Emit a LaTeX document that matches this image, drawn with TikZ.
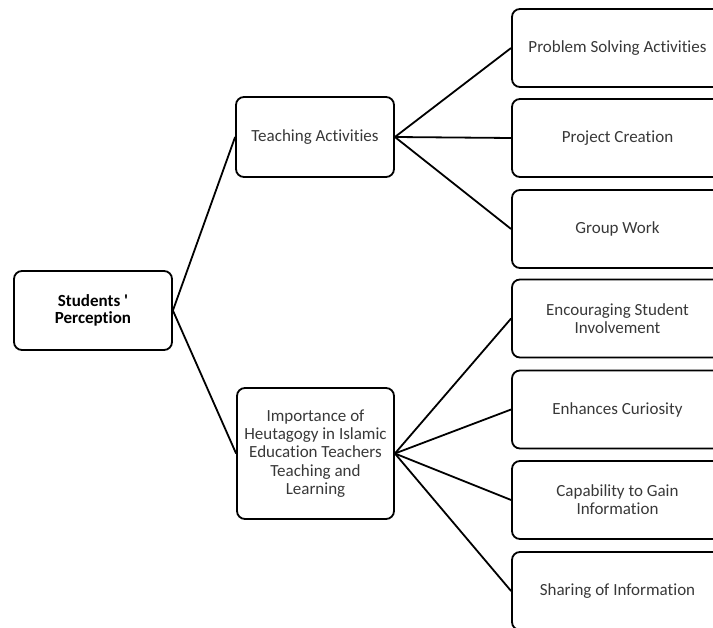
\documentclass[tikz,border=0pt]{standalone}
\usepackage{fontspec}
\setmainfont{Carlito}[Ligatures={NoCommon}]
\begin{document}
\begin{tikzpicture}[x=1pt,y=-1pt,
  box/.style={draw=black, line width=1.8pt, rounded corners=8pt, align=center,
    text=black!78, font=\fontsize{17}{18.3}\selectfont, inner sep=0pt},
  leaf/.style={box, minimum width=211pt, minimum height=78pt},
  link/.style={line width=1.8pt}]
\clip (0,0) rectangle (713,628);
\node[box, minimum width=158pt, minimum height=79pt, text=black,
  font=\bfseries\fontsize{17}{17.7}\selectfont] (sp) at (93,310.5) {Students \textquotesingle\\Perception};
\node[box, minimum width=158pt, minimum height=80pt] (ta) at (315,137) {Teaching Activities};
\node[box, minimum width=157pt, minimum height=131pt] (ih) at (315.5,453.5)
  {Importance of\\Heutagogy in Islamic\\Education Teachers\\Teaching and\\Learning};
\node[leaf] (l1) at (617.5,48) {Problem Solving Activities};
\node[leaf] (l2) at (617.5,138) {Project Creation};
\node[leaf] (l3) at (617.5,229) {Group Work};
\node[leaf] (l4) at (617.5,318.5) {Encouraging Student\\Involvement};
\node[leaf] (l5) at (617.5,409.5) {Enhances Curiosity};
\node[leaf] (l6) at (617.5,500) {Capability to Gain\\Information};
\node[leaf] (l7) at (617.5,591) {Sharing of Information};
\draw[link] (sp.east) -- (ta.west);
\draw[link] (sp.east) -- (ih.west);
\foreach \t in {l1,l2,l3} \draw[link] (ta.east) -- (\t.west);
\foreach \t in {l4,l5,l6,l7} \draw[link] (ih.east) -- (\t.west);
\end{tikzpicture}
\end{document}
